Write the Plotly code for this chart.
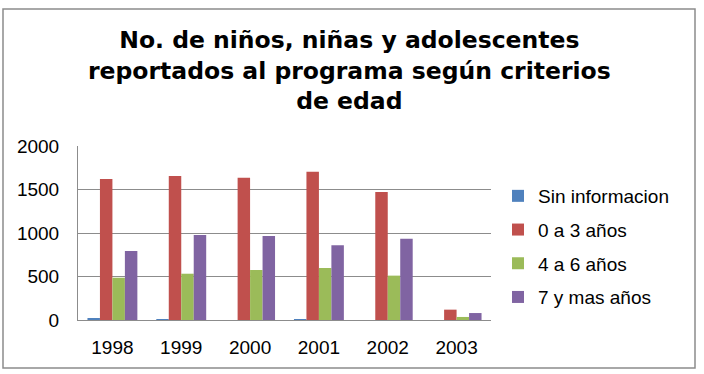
import plotly.graph_objects as go

years = ["1998", "1999", "2000", "2001", "2002", "2003"]
sin_info = [14, 10, 0, 3, 0, 0]
edad_0_3 = [1621, 1655, 1636, 1705, 1471, 119]
edad_4_6 = [486, 532, 575, 598, 510, 35]
edad_7_mas = [793, 977, 966, 858, 935, 80]

series = [
    ("Sin informacion", sin_info, "#4F81BD"),
    ("0 a 3 años", edad_0_3, "#C0504D"),
    ("4 a 6 años", edad_4_6, "#9BBB59"),
    ("7 y mas años", edad_7_mas, "#8064A2"),
]

W, H = 704, 374
L, R, T, B = 78, 213, 146, 54
pw, ph = W - L - R, H - T - B

def px(x):
    return (x - L) / pw

def py(y):
    return (H - B - y) / ph

fig = go.Figure()
for i, (name, vals, color) in enumerate(series):
    fig.add_trace(go.Bar(x=years, y=vals, name=name, marker_color=color,
                         marker_line_width=0, legendgroup=f"g{i}"))

font_main = "Liberation Sans, Arial, sans-serif"

fig.update_layout(
    width=W, height=H,
    margin=dict(l=L, r=R, t=T, b=B),
    paper_bgcolor="white", plot_bgcolor="white",
    barmode="group", bargap=0.275, bargroupgap=0,
    showlegend=True,
    legend=dict(x=px(498), xanchor="left", y=py(177), yanchor="top",
                font=dict(family=font_main, size=19, color="#000"),
                tracegroupgap=6, bgcolor="rgba(0,0,0,0)", itemclick=False),
    xaxis=dict(showgrid=False, showline=True, linecolor="#8c8c8c", linewidth=1,
               tickfont=dict(family=font_main, size=19, color="#000"),
               ticks="", ticklabelstandoff=10, fixedrange=True),
    yaxis=dict(range=[0, 2000], tickvals=[0, 500, 1000, 1500, 2000],
               showgrid=True, gridcolor="#8c8c8c", gridwidth=1,
               showline=True, linecolor="#8c8c8c", linewidth=1,
               zeroline=False,
               tickfont=dict(family=font_main, size=19, color="#000"),
               ticks="", ticklabelstandoff=14, fixedrange=True),
    shapes=[dict(type="rect", xref="paper", yref="paper",
                 x0=px(3), x1=px(695), y0=py(368), y1=py(9),
                 line=dict(color="#8c8c8c", width=1.5), fillcolor="rgba(0,0,0,0)",
                 layer="below")],
    annotations=[dict(xref="paper", yref="paper", x=px(349), y=py(70),
                      xanchor="center", yanchor="middle", showarrow=False,
                      align="center",
                      text="No. de niños, niñas y adolescentes<br>reportados al programa según criterios<br>de edad",
                      font=dict(family="DejaVu Sans, sans-serif", size=23.5, color="#000",
                                weight="bold"))],
)

fig.write_html("out.html", config={"displayModeBar": False})
